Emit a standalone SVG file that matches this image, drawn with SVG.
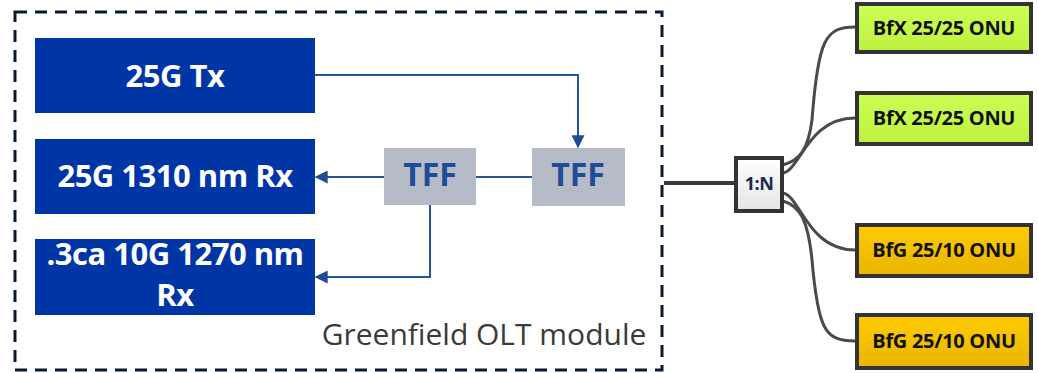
<svg xmlns="http://www.w3.org/2000/svg" width="1038" height="373" viewBox="0 0 1038 373">
<style>
.blue{fill:#0035A6}
.bt{font-family:"Open Sans",sans-serif;font-weight:bold;font-size:31px;fill:#fff;text-anchor:middle;letter-spacing:-0.5px}
.tff{fill:#B5BBC7}
.tt{font-family:"Open Sans",sans-serif;font-weight:bold;font-size:32px;fill:#1E4C97;text-anchor:middle}
.bl{fill:none;stroke:#2A559E;stroke-width:2}
.fib{fill:none;stroke:#4a4a4a;stroke-width:3}
.onu{stroke:#333;stroke-width:4}
.ot{font-family:"Open Sans",sans-serif;font-weight:bold;font-size:20px;fill:#111;text-anchor:middle;letter-spacing:-0.3px}
</style>
<defs>
<marker id="ah" viewBox="0 0 10 10" refX="9" refY="5" markerWidth="13" markerHeight="13" orient="auto" markerUnits="userSpaceOnUse"><path d="M0,0 L10,5 L0,10 z" fill="#1E4C97"/></marker>
<linearGradient id="gG" x1="0" y1="0" x2="0" y2="1"><stop offset="0" stop-color="#CCFF55"/><stop offset="1" stop-color="#BDF03E"/></linearGradient>
<linearGradient id="gO" x1="0" y1="0" x2="0" y2="1"><stop offset="0" stop-color="#FFCC00"/><stop offset="1" stop-color="#E8B400"/></linearGradient>
<linearGradient id="gS" x1="0" y1="0" x2="0" y2="1"><stop offset="0" stop-color="#ffffff"/><stop offset="1" stop-color="#e4e4e4"/></linearGradient>
</defs>
<rect width="1038" height="373" fill="#fff"/>
<g id="module">
<rect x="15" y="12" width="647" height="358" fill="none" stroke="#0B1A33" stroke-width="3" stroke-dasharray="12 8"/>
<text x="484" y="345" font-family="Open Sans, sans-serif" font-size="30" fill="#3a3a3a" text-anchor="middle">Greenfield OLT module</text>
</g>
<g id="connectors">
<path class="bl" d="M315,75 H578 V147" marker-end="url(#ah)"/>
<path class="bl" d="M476,177 H532"/>
<path class="bl" d="M384,177 H316" marker-end="url(#ah)"/>
<path class="bl" d="M430,205 V277 H316" marker-end="url(#ah)"/>
<path d="M664,183 H737" fill="none" stroke="#3a3a3a" stroke-width="4"/>
<path class="fib" d="M783,165 C800,160 808,150 812,120 C818,40 825,27 855,27"/>
<path class="fib" d="M783,173 C800,170 808,118 855,118"/>
<path class="fib" d="M783,193 C800,196 808,250 855,250"/>
<path class="fib" d="M783,201 C800,206 808,220 812,260 C818,330 825,341 855,341"/>
</g>
<g id="tx"><rect class="blue" x="35" y="38" width="280" height="75"/><text class="bt" x="175" y="87">25G Tx</text></g>
<g id="rx1310"><rect class="blue" x="35" y="139" width="280" height="75"/><text class="bt" x="175" y="187">25G 1310 nm Rx</text></g>
<g id="rx1270"><rect class="blue" x="35" y="239" width="280" height="76"/><text class="bt" x="175" y="265" font-size="30">.3ca 10G 1270 nm</text><text class="bt" x="175" y="306" font-size="30">Rx</text></g>
<g id="tff1"><rect class="tff" x="384" y="148" width="92" height="57"/><text class="tt" x="430" y="186">TFF</text></g>
<g id="tff2"><rect class="tff" x="532" y="148" width="93" height="58"/><text class="tt" x="578" y="186">TFF</text></g>
<g id="splitter"><rect x="736" y="158" width="46" height="53" fill="url(#gS)" stroke="#333" stroke-width="4"/><text x="759" y="190" font-family="Open Sans, sans-serif" font-weight="bold" font-size="18" fill="#1a2a4a" text-anchor="middle" letter-spacing="-0.5">1:N</text></g>
<g id="onu1"><rect class="onu" x="857" y="4" width="174" height="48" fill="url(#gG)"/><text class="ot" x="944" y="35">BfX 25/25 ONU</text></g>
<g id="onu2"><rect class="onu" x="857" y="93" width="174" height="51" fill="url(#gG)"/><text class="ot" x="944" y="125">BfX 25/25 ONU</text></g>
<g id="onu3"><rect class="onu" x="857" y="225" width="174" height="51" fill="url(#gO)"/><text class="ot" x="944" y="257">BfG 25/10 ONU</text></g>
<g id="onu4"><rect class="onu" x="857" y="315" width="174" height="53" fill="url(#gO)"/><text class="ot" x="944" y="348">BfG 25/10 ONU</text></g>
</svg>
